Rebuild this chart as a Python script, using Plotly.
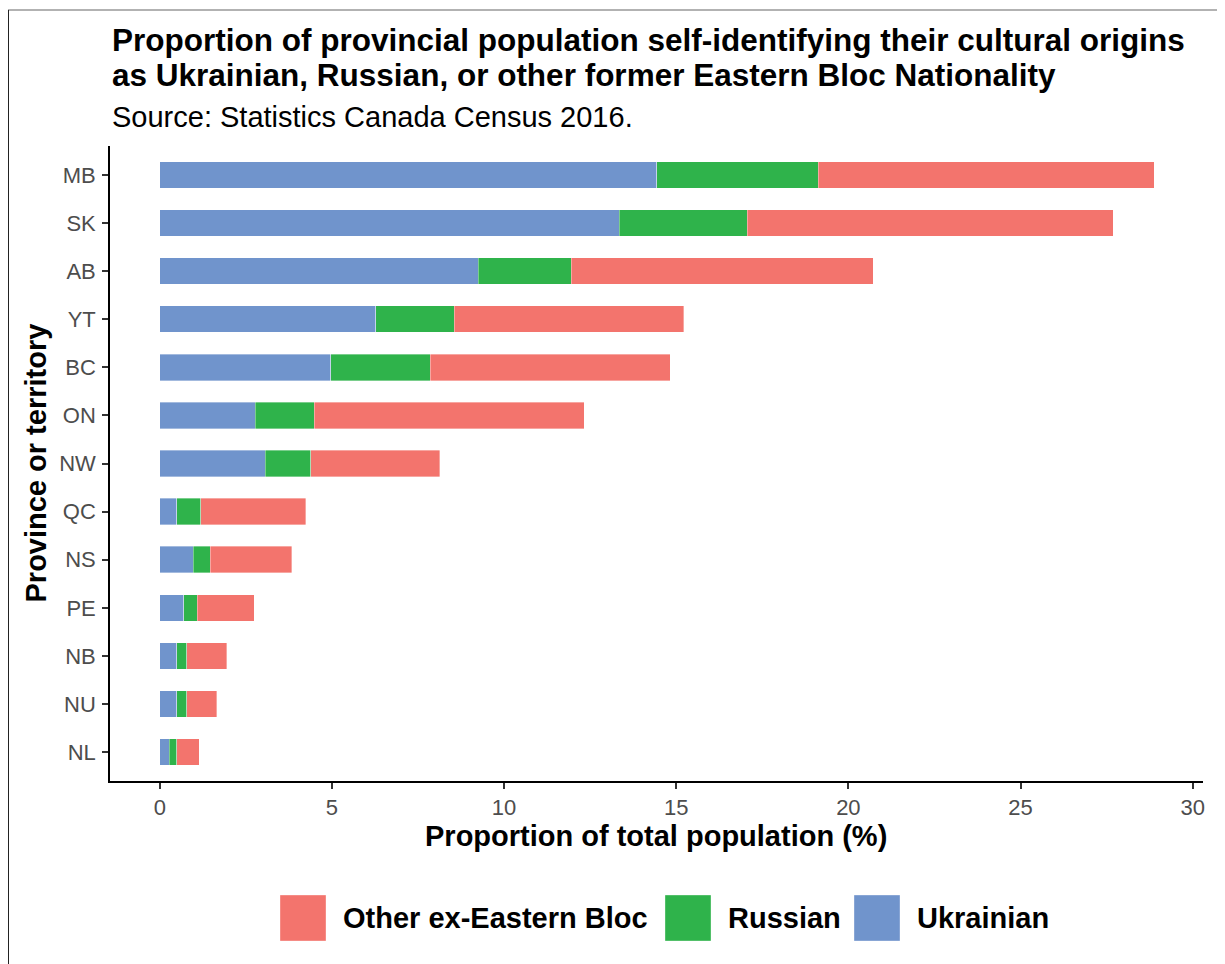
import plotly.graph_objects as go

# ---- data (top to bottom as shown) ----
provinces = ["MB", "SK", "AB", "YT", "BC", "ON", "NW", "QC", "NS", "PE", "NB", "NU", "NL"]
ukrainian = [14.43, 13.35, 9.25, 6.27, 4.96, 2.78, 3.07, 0.49, 0.98, 0.69, 0.49, 0.49, 0.27]
russian = [4.70, 3.71, 2.70, 2.29, 2.89, 1.71, 1.31, 0.70, 0.49, 0.40, 0.30, 0.30, 0.22]
other = [9.75, 10.63, 8.77, 6.66, 6.98, 7.84, 3.75, 3.05, 2.37, 1.65, 1.16, 0.86, 0.66]

series_names = ["Ukrainian", "Russian", "Other ex-Eastern Bloc"]
series_values = [ukrainian, russian, other]
series_colors = ["#7094CC", "#2FB34B", "#F3746D"]
legend_order = ["Other ex-Eastern Bloc", "Russian", "Ukrainian"]

title_line1 = "Proportion of provincial population self-identifying their cultural origins"
title_line2 = "as Ukrainian, Russian, or other former Eastern Bloc Nationality"
subtitle = "Source: Statistics Canada Census 2016."
x_title = "Proportion of total population (%)"
y_title = "Province or territory"
x_ticks = [0, 5, 10, 15, 20, 25, 30]

FONT = "Liberation Sans, Arial, Helvetica, sans-serif"

# ---- layout geometry (screen pixels; page has an 8px body margin) ----
OFF = 8
SW, SH = 1225, 964
L, R, T, B = 110, 1203, 146, 781
W, H = SW - OFF, SH - OFF


def px(x):
    return (x - L) / (R - L)


def py(y):
    return (B - y) / (B - T)


fig = go.Figure()
for name, vals, col in zip(series_names, series_values, series_colors):
    fig.add_trace(go.Bar(
        y=provinces, x=vals, name=name, orientation="h",
        marker=dict(color=col, line=dict(width=0.6, color="rgba(255,255,255,0.6)")),
        width=0.55, showlegend=False,
    ))

annotations = [
    dict(text=f"<b>{title_line1}</b>", x=px(110), y=py(40), xanchor="left", yanchor="middle",
         font=dict(size=31.5, color="#000000", family=FONT)),
    dict(text=f"<b>{title_line2}</b>", x=px(110), y=py(75), xanchor="left", yanchor="middle",
         font=dict(size=31.5, color="#000000", family=FONT)),
    dict(text=subtitle, x=px(110), y=py(117), xanchor="left", yanchor="middle",
         font=dict(size=29, color="#000000", family=FONT)),
    dict(text=f"<b>{x_title}</b>", x=px(656), y=py(836), xanchor="center", yanchor="middle",
         font=dict(size=29, color="#000000", family=FONT)),
    dict(text=f"<b>{y_title}</b>", x=px(35), y=py(463.5), xanchor="center", yanchor="middle",
         textangle=-90, font=dict(size=29, color="#000000", family=FONT)),
]

shapes = []
# legend keys + labels
key_x = {"Other ex-Eastern Bloc": 280, "Russian": 665, "Ukrainian": 854}
color_of = dict(zip(series_names, series_colors))
for name in legend_order:
    x0 = key_x[name]
    shapes.append(dict(type="rect", xref="paper", yref="paper",
                       x0=px(x0), x1=px(x0 + 46), y0=py(941), y1=py(895),
                       fillcolor=color_of[name], line=dict(width=0.6, color="rgba(255,255,255,0.6)")))
    annotations.append(dict(text=f"<b>{name}</b>", x=px(x0 + 61), y=py(918), xanchor="left",
                            yanchor="middle", font=dict(size=29, color="#000000", family=FONT)))

# picture frame lines
shapes.append(dict(type="line", xref="paper", yref="paper", x0=px(8), x1=px(1240),
                   y0=py(10), y1=py(10), line=dict(color="#666666", width=1.2)))
shapes.append(dict(type="line", xref="paper", yref="paper", x0=px(8), x1=px(8),
                   y0=py(10), y1=py(980), line=dict(color="#222222", width=2)))

for a in annotations:
    a.setdefault("xref", "paper")
    a.setdefault("yref", "paper")
    a.setdefault("showarrow", False)

fig.update_layout(
    width=W, height=H,
    margin=dict(l=L - OFF, r=SW - R, t=T - OFF, b=SH - B, pad=0),
    barmode="stack",
    plot_bgcolor="white", paper_bgcolor="white",
    font=dict(family=FONT),
    annotations=annotations,
    shapes=shapes,
    showlegend=False,
)
fig.update_xaxes(
    range=[-1.445, 30.3], tickvals=x_ticks, ticktext=[str(t) for t in x_ticks],
    showgrid=False, zeroline=False,
    showline=True, linecolor="#000000", linewidth=1.6,
    ticks="outside", ticklen=6, tickwidth=1.6, tickcolor="#333333",
    tickfont=dict(size=22, color="#4D4D4D", family=FONT),
)
fig.update_yaxes(
    categoryorder="array", categoryarray=provinces[::-1], range=[-0.6, 12.6],
    showgrid=False, zeroline=False,
    showline=True, linecolor="#000000", linewidth=1.6,
    ticks="outside", ticklen=6, tickwidth=1.6, tickcolor="#333333",
    tickfont=dict(size=22, color="#4D4D4D", family=FONT),
    ticklabelstandoff=2,
)

fig.write_html("out.html")
